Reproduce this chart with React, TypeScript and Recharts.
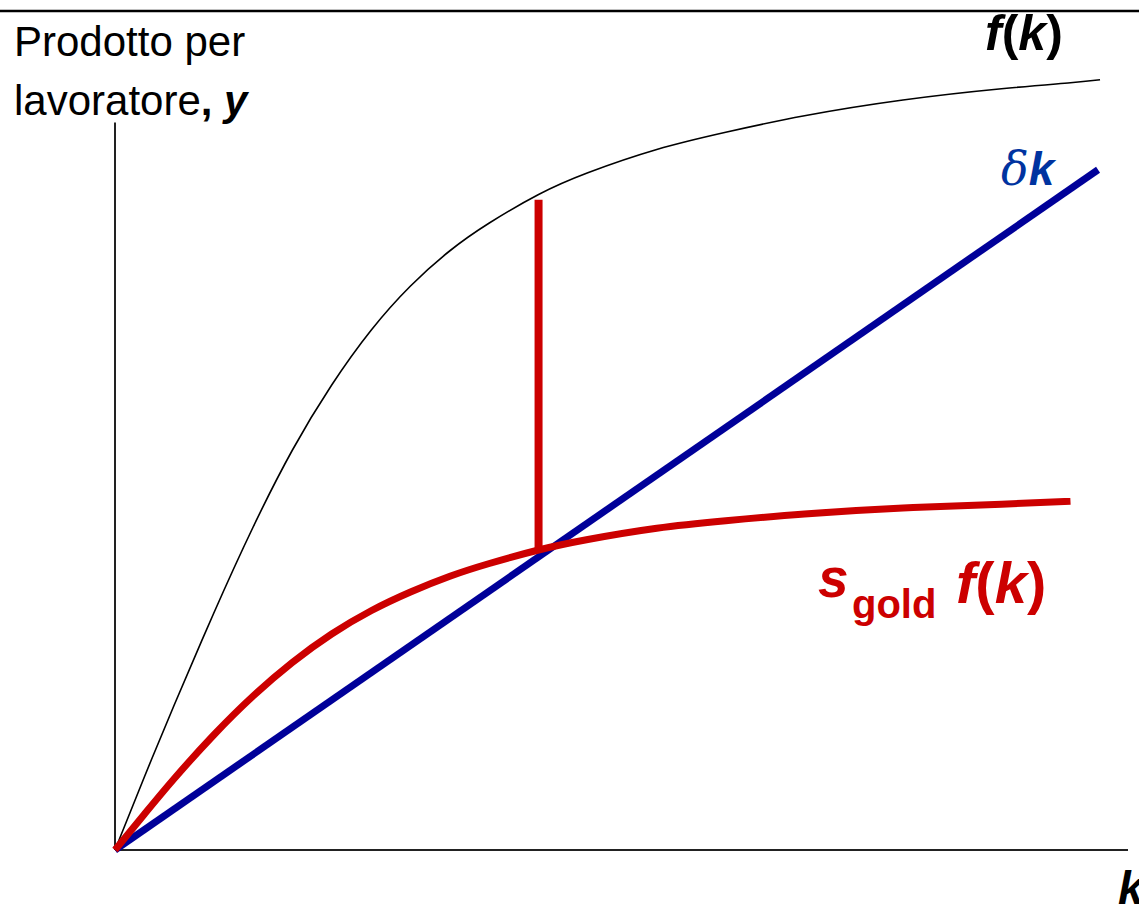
import React from "react";
import { LineChart, Line, XAxis, YAxis, ReferenceLine } from "recharts";

// capital per worker (k) grid
const kGrid = [0, 3, 6, 10, 14, 18, 22, 26, 30, 34, 38, 43, 48, 55, 62, 70, 80, 90, 97, 100];
// output per worker f(k)
const fValues = [0, 9.8, 19.3, 31.5, 43.0, 53.3, 62.0, 69.3, 75.2, 79.9, 83.6, 87.4, 90.3, 93.4, 95.7, 97.9, 100.0, 101.5, 102.3, 102.7];
// investment at golden rule saving rate, s_gold f(k)
const sGoldValues = [0, 4.8, 9.5, 15.3, 20.5, 25.0, 28.8, 31.9, 34.4, 36.5, 38.2, 40.0, 41.4, 42.9, 43.9, 44.8, 45.6, 46.1, 46.5, null];
// depreciation line δk
const depK = [0, 99.8];
const depValues = [0, 90.7];
// golden rule marker
const goldK = 43;
const goldSpan = [40.2, 86.7];

const xMax = 102.84;
const yMax = 110;
const yAxisTop = 97;

const curveRows = kGrid.map((k, i) => ({ k, f: fValues[i], s: sGoldValues[i] }));
const depRows = depK.map((k, i) => ({ k, d: depValues[i] }));
const goldRows = goldSpan.map((y) => ({ k: goldK, g: y }));

const font = "'Liberation Sans', Arial, Helvetica, sans-serif";

export default function App() {
  return (
    <div style={{ position: "absolute", left: 0, top: 0, width: 1139, height: 906, background: "#fff", overflow: "hidden" }}>
      <LineChart width={1139} height={906} margin={{ top: 25, right: 11, bottom: 56, left: 115 }}>
        <XAxis dataKey="k" type="number" domain={[0, xMax]} hide allowDuplicatedCategory={false} />
        <YAxis type="number" domain={[0, yMax]} hide />
        <ReferenceLine y={0} stroke="#222" strokeWidth={2} />
        <ReferenceLine
          segment={[{ x: 0, y: 0 }, { x: 0, y: yAxisTop }]}
          stroke="#222"
          strokeWidth={2}
        />
        <Line data={curveRows} dataKey="f" type="natural" stroke="#000" strokeWidth={1.6} dot={false} isAnimationActive={false} />
        <Line data={depRows} dataKey="d" type="linear" stroke="#000099" strokeWidth={7} dot={false} isAnimationActive={false} />
        <Line data={curveRows} dataKey="s" type="natural" stroke="#cc0000" strokeWidth={7} dot={false} isAnimationActive={false} />
        <Line data={goldRows} dataKey="g" type="linear" stroke="#cc0000" strokeWidth={8} dot={false} isAnimationActive={false} />
      </LineChart>

      <svg width={1139} height={906} style={{ position: "absolute", left: 0, top: 0, pointerEvents: "none" }}>
        <text x={14} y={56} fontFamily={font} fontSize={42} fill="#000">Prodotto per</text>
        <text x={14} y={115} fontFamily={font} fontSize={42} fill="#000">
          lavoratore
          <tspan fontWeight="bold">, </tspan>
          <tspan fontWeight="bold" fontStyle="italic">y</tspan>
        </text>

        <text x={985} y={50} fontFamily={font} fontSize={50} fontWeight="bold" fill="#000">
          <tspan fontStyle="italic">f</tspan>(<tspan fontStyle="italic">k</tspan>)
        </text>
        <rect x={0} y={0} width={1139} height={10} fill="#fff" />
        <line x1={0} y1={11} x2={1139} y2={11} stroke="#000" strokeWidth={2.5} />

        <text x={1001} y={185} fontFamily={font} fontSize={46} fill="#0033a0">
          <tspan fontStyle="italic" fontFamily="'DejaVu Serif', serif">δ</tspan>
          <tspan fontWeight="bold" fontStyle="italic">k</tspan>
        </text>

        <text x={818} y={597} fontFamily={font} fontSize={55} fontWeight="bold" fontStyle="italic" fill="#cc0000">s</text>
        <text x={852} y={618} fontFamily={font} fontSize={40} fontWeight="bold" fill="#cc0000">gold</text>
        <text x={956} y={603} fontFamily={font} fontSize={58} fontWeight="bold" fill="#cc0000">
          <tspan fontStyle="italic">f</tspan>(<tspan fontStyle="italic">k</tspan>)
        </text>

        <text x={1118} y={904} fontFamily={font} fontSize={46} fontWeight="bold" fontStyle="italic" fill="#000">k</text>
      </svg>
    </div>
  );
}
